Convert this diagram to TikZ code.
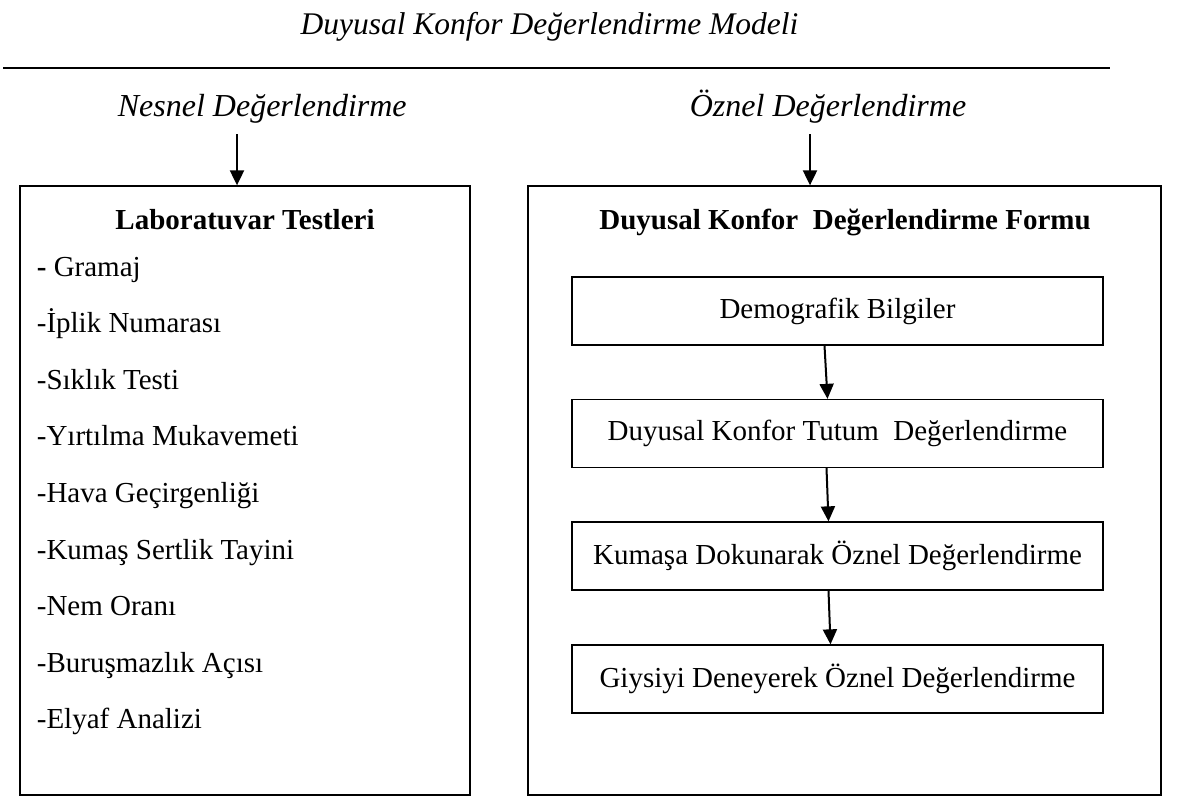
\documentclass[tikz,border=0pt]{standalone}
\usepackage{fontspec}
\setmainfont{Liberation Serif}
\usetikzlibrary{arrows.meta}

\begin{document}
\begin{tikzpicture}[x=1pt,y=-1pt,
  kutu/.style={draw,line width=1.3pt},
  etiket/.style={font=\fontsize{32}{37}\selectfont\itshape,anchor=base west},
  ok/.style={line width=2pt,-{Triangle[length=15pt,width=14pt]}}]
  \fontsize{29}{34}\selectfont % affects text nodes in this picture
  \useasboundingbox (0,0) rectangle (1191,803);
  % baslik
  \node[font=\fontsize{31.5}{36}\selectfont\itshape,anchor=base] (baslik) at (549.5,34)
  {Duyusal Konfor Değerlendirme Modeli};
  \coordinate (cizA) at (3,68); \coordinate (cizB) at (1110,68);
  \draw[line width=2.6pt] (cizA) -- (cizB);
  \node[etiket] (nesnel) at (108,116) {Nesnel Değerlendirme};
  \node[etiket] (oznel) at (680,116) {Öznel Değerlendirme};

  % kutular
  \node[kutu,minimum width=450,minimum height=609] (lab) at (245,490.5) {};
  \node[kutu,minimum width=633,minimum height=609] (form) at (844.5,490.5) {};
  \coordinate (nesnelok) at (237,134); \coordinate (oznelok) at (810,134);
  \draw[ok] (nesnelok) -- (nesnelok |- lab.north);
  \draw[ok] (oznelok) -- (oznelok |- form.north);

  % laboratuvar testleri
  \node[font=\bfseries,anchor=base] (labbas) at (245,229) {Laboratuvar Testleri};
  \node[anchor=base west] (m1) at (27,276) {\textbf{-} Gramaj};
  \foreach \t [count=\i from 2] in {İplik Numarası, Sıklık Testi,
    Yırtılma Mukavemeti, Hava Geçirgenliği, Kumaş Sertlik Tayini,
    Nem Oranı, Buruşmazlık Açısı, Elyaf Analizi}
  { \node[anchor=base west] (m\i) at (27,{276+56.6*(\i-1)}) {-\t}; }

  % degerlendirme formu
  \node[font=\bfseries,anchor=base] (formbas) at (845,229) {Duyusal Konfor\ \ Değerlendirme Formu};
  \node[kutu,minimum width=531,minimum height=68] (d1) at (837.5,311) {Demografik Bilgiler};
  \node[kutu,minimum width=531,minimum height=68] (d2) at (837.5,433.5) {Duyusal Konfor Tutum\ \ Değerlendirme};
  \node[kutu,minimum width=531,minimum height=68] (d3) at (837.5,556) {Kumaşa Dokunarak Öznel Değerlendirme};
  \node[kutu,minimum width=531,minimum height=68] (d4) at (837.5,679) {Giysiyi Deneyerek Öznel Değerlendirme};
  \draw[ok] ([xshift=-13pt]d1.south) -- ([xshift=-10pt]d2.north);
  \draw[ok] ([xshift=-11pt]d2.south) -- ([xshift=-9pt]d3.north);
  \draw[ok] ([xshift=-9pt]d3.south) -- ([xshift=-7pt]d4.north);
\end{tikzpicture}
\end{document}
